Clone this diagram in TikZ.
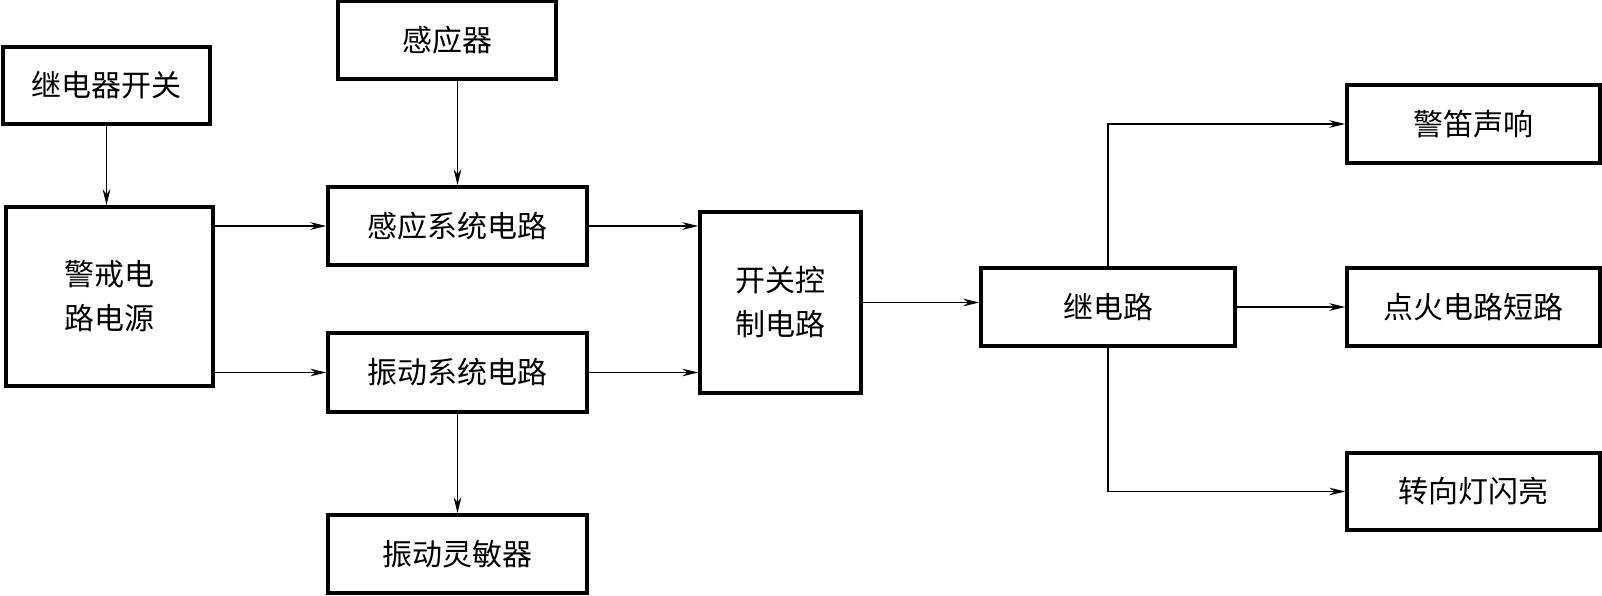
\documentclass[tikz,border=0pt]{standalone}
\usepackage{fontspec}
\newfontfamily\cjk{Noto Sans CJK SC}
\usetikzlibrary{arrows.meta}
\begin{document}
\begin{tikzpicture}[x=0.5pt,y=-0.5pt,
  box/.style={draw,line width=1.7pt,rectangle,inner sep=0pt,align=center,
    font=\cjk\fontsize{15pt}{22pt}\selectfont},
  arr/.style={line width=0.9pt,-{Stealth[length=8pt,width=3.8pt,inset=2.5pt]}}]
\useasboundingbox (0,0) rectangle (1602,595);
\node[box,minimum width=103.5pt,minimum height=38.5pt] (relsw) at (106.5,85.5) {继电器开关};
\node[box,minimum width=109pt,minimum height=39pt] (sensor) at (447,40) {感应器};
\node[box,minimum width=103.5pt,minimum height=89.5pt] (power) at (109.5,296.5) {警戒电\\路电源};
\node[box,minimum width=129.5pt,minimum height=39pt] (sensc) at (457.5,226) {感应系统电路};
\node[box,minimum width=129.5pt,minimum height=39.5pt] (vibc) at (457.5,372.5) {振动系统电路};
\node[box,minimum width=129.5pt,minimum height=39pt] (vibs) at (457.5,554) {振动灵敏器};
\node[box,minimum width=80.5pt,minimum height=90.5pt] (ctrl) at (780.5,302.5) {开关控\\制电路};
\node[box,minimum width=127pt,minimum height=39pt] (relay) at (1108,307) {继电路};
\node[box,minimum width=126.5pt,minimum height=39pt] (siren) at (1473.5,124) {警笛声响};
\node[box,minimum width=126.5pt,minimum height=39pt] (ign) at (1473.5,307) {点火电路短路};
\node[box,minimum width=126.5pt,minimum height=38.5pt] (turn) at (1473.5,491.5) {转向灯闪亮};

\draw[arr] (relsw) -- (relsw |- power.north);
\draw[arr] (sensor.south -| sensc) -- (sensc);
\draw[arr] (power.east |- sensc) -- (sensc);
\draw[arr] (power.east |- vibc) -- (vibc);
\draw[arr] (vibc) -- (vibs);
\draw[arr] (sensc) -- (sensc -| ctrl.west);
\draw[arr] (vibc) -- (vibc -| ctrl.west);
\draw[arr] (ctrl) -- (ctrl -| relay.west);
\draw[arr] (relay) -- (ign);
\draw[arr] (relay.north) |- (siren);
\draw[arr] (relay.south) |- (turn);
\end{tikzpicture}
\end{document}
